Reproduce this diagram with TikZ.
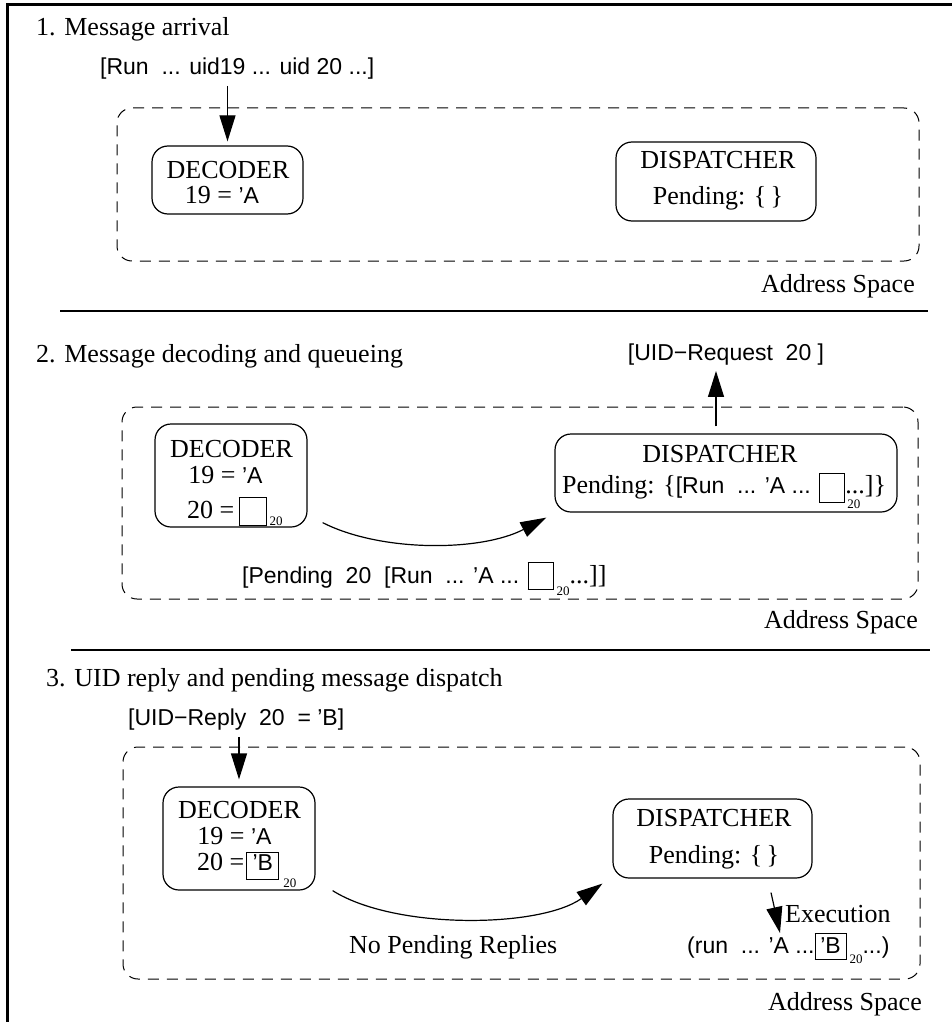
\documentclass[tikz,border=0pt]{standalone}
\usepackage{fontspec}
\setmainfont{Liberation Serif}
\setsansfont{Liberation Sans}
\usetikzlibrary{arrows.meta}
\newcommand\sa[1]{{\sffamily\fontsize{23}{26}\selectfont #1}}
% width, total height, depth, content
\newcommand\sqbox[4]{{\setlength{\fboxsep}{0pt}\setlength{\fboxrule}{1pt}\fbox{\makebox[#1]{\rule[-#3]{0pt}{#2}#4}}}}
\newcommand\subtw[1]{\raisebox{-#1}{\rmfamily\fontsize{13}{13}\selectfont 20}}
\begin{document}
\begin{tikzpicture}[x=1pt,y=-1pt,
  lab/.style={inner sep=0pt, font=\fontsize{26}{28}\selectfont},
  sanslab/.style={inner sep=0pt, font=\sffamily\fontsize{23}{26}\selectfont},
  comp/.style={draw, rounded corners=16pt, line width=1.2pt, inner sep=0pt},
  addrspace/.style={draw, dash pattern=on 11pt off 8pt, rounded corners=15pt, line width=1pt, inner sep=0pt},
  arr/.style={-{Triangle[length=26pt,width=16pt]}, line width=1.2pt},
  sepline/.style={line width=1.4pt},
  borderline/.style={line width=3pt}]
\useasboundingbox (0,0) rectangle (952,1022);
\draw[borderline] (7,1022) -- (7,5) -- (952,5);

% ---------- Section 1
\node[lab, anchor=base west] (h1) at (36,36) {1. Message arrival};
\node[sanslab, anchor=base west] (m1) at (100,75) {[Run\ \ ... uid19 ... uid 20 ...]};
\node[addrspace, minimum width=802pt, minimum height=153pt] (as1) at (518,184.5) {};
\node[comp, minimum width=151pt, minimum height=68pt] (dec1) at (227.5,180) {};
\node[lab, anchor=base] (dec1a) at (228,178) {DECODER};
\node[lab, anchor=base] (dec1b) at (222,203) {19 = \sa{’A}};
\node[comp, minimum width=200pt, minimum height=79pt] (disp1) at (716,181.5) {};
\node[lab, anchor=base] (disp1a) at (718,168) {DISPATCHER};
\node[lab, anchor=base] (disp1b) at (718,204) {Pending: \{\,\}};
\node[lab, anchor=base east] (asl1) at (915,292) {Address Space};
\draw[arr, shorten <=6pt, shorten >=4pt] (m1.south -| dec1.north) -- (dec1.north);
\draw[sepline] (60,311) -- (928,311);

% ---------- Section 2
\node[lab, anchor=base west] (h2) at (36,362) {2. Message decoding and queueing};
\node[sanslab, anchor=base] (m2) at (726,360) {[UID−Request\ \ 20 ]};
\node[addrspace, minimum width=796pt, minimum height=192pt] (as2) at (520,503) {};
\node[comp, minimum width=152pt, minimum height=103pt] (dec2) at (231,475.5) {};
\node[lab, anchor=base] (dec2a) at (231.5,457) {DECODER};
\node[lab, anchor=base] (dec2b) at (225.5,483) {19 = \sa{’A}};
\node[lab, anchor=base west] (dec2c) at (187,518) {20 =\,\sqbox{26pt}{27pt}{7pt}{}\kern3pt\subtw{7pt}};
\node[comp, minimum width=342pt, minimum height=78pt] (disp2) at (726,473) {};
\node[lab, anchor=base] (disp2a) at (720,462) {DISPATCHER};
\node[lab, anchor=base west] (disp2b) at (562,493) {Pending: \{\sa{[Run\ \ ... ’A ... }\sqbox{24pt}{28pt}{9pt}{}\rlap{\kern2pt\subtw{15pt}}...]\}};
\node[lab, anchor=base west] (m3) at (242,583) {\sa{[Pending\ \ 20\ \ [Run\ \ ... ’A ... }\sqbox{24pt}{26pt}{6pt}{}\kern3pt\subtw{12pt}...]]};
\coordinate (d2top) at ([xshift=-10pt]disp2.north);
\draw[arr, shorten <=7pt, shorten >=6pt] (d2top) -- (d2top |- m2.south);
\draw[arr] ([xshift=15pt,yshift=5pt]dec2.south east) .. controls (380,552) and (480,552) .. ([xshift=-8pt,yshift=-5pt]disp2.south west);
\node[lab, anchor=base east] (asl2) at (918,628) {Address Space};
\draw[sepline] (71,650) -- (930,650);

% ---------- Section 3
\node[lab, anchor=base west] (h3) at (46,686) {3. UID reply and pending message dispatch};
\node[sanslab, anchor=base west] (m4) at (128,725) {[UID−Reply\ \ 20\ \ = ’B]};
\node[addrspace, minimum width=797pt, minimum height=232pt] (as3) at (521.5,863) {};
\node[comp, minimum width=152pt, minimum height=103pt] (dec3) at (239,838.5) {};
\node[lab, anchor=base] (dec3a) at (239.5,818) {DECODER};
\node[lab, anchor=base] (dec3b) at (234.5,844) {19 = \sa{’A}};
\node[lab, anchor=base west] (dec3c) at (197,870) {20 =\kern2pt\sqbox{31pt}{26pt}{9pt}{\sa{’B}}\kern4pt\subtw{17pt}};
\node[comp, minimum width=199pt, minimum height=79pt] (disp3) at (712.5,838.5) {};
\node[lab, anchor=base] (disp3a) at (714,826) {DISPATCHER};
\node[lab, anchor=base] (disp3b) at (714,863) {Pending: \{\,\}};
\draw[arr, shorten <=7pt, shorten >=7pt] (m4.south -| dec3.north) -- (dec3.north);
\draw[arr] ([xshift=17pt]dec3.south east) .. controls (395,930) and (540,928) .. ([xshift=-10pt,yshift=-5pt]disp3.south west);
\coordinate (ex0) at ([xshift=58.5pt,yshift=-14pt]disp3.south);
\coordinate (ex1) at (780,933);
\draw[arr] (ex0) -- (ex1);
\node[lab, anchor=base west] (exl) at (785,922) {Execution};
\node[lab, anchor=base west] (run) at (687,953) {\sa{(run\ \ ... ’A ...}\sqbox{30pt}{25pt}{6pt}{\sa{’B}}\kern3pt\subtw{10pt}\sa{...)}};
\node[lab, anchor=base west] (npr) at (349,953) {No Pending Replies};
\node[lab, anchor=base east] (asl3) at (922,1010) {Address Space};
\end{tikzpicture}
\end{document}
